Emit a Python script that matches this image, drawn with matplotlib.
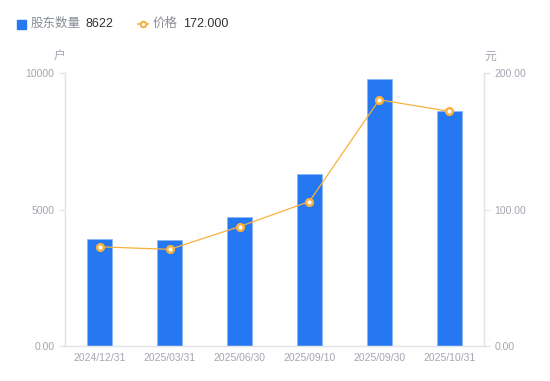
import matplotlib.pyplot as plt

plt.rcParams['font.family'] = ['Liberation Sans', 'Noto Sans CJK SC', 'DejaVu Sans']

dates = ['2024/12/31', '2025/03/31', '2025/06/30', '2025/09/10', '2025/09/30', '2025/10/31']
holders = [3920, 3880, 4730, 6310, 9770, 8622]
price = [72.7, 70.8, 87.5, 105.9, 180.5, 172.0]

blue = '#2677F2'
orange = '#F7B13F'
grey = '#A3A6B0'
axis_grey = '#E3E4E8'

fig = plt.figure(figsize=(5.5, 3.81), dpi=100)
ax = fig.add_axes([0.118, 0.092, 0.762, 0.716])
ax2 = ax.twinx()

x = list(range(len(dates)))
ax.bar(x, holders, width=0.36, color=blue, edgecolor='#8DB6F7', linewidth=0.6, zorder=2)
ax.set_xlim(-0.5, len(dates) - 0.5)
ax.set_ylim(0, 10000)
ax.set_yticks([0, 5000, 10000])
ax.set_yticklabels(['0.00', '5000', '10000'])
ax.set_xticks(x)
ax.set_xticklabels(dates)

ax2.plot(x, price, color=orange, linewidth=0.9, marker='o', markersize=4.8,
         markerfacecolor='white', markeredgecolor=orange, markeredgewidth=1.8, zorder=3)
ax2.set_ylim(0, 200)
ax2.set_yticks([0, 100, 200])
ax2.set_yticklabels(['0.00', '100.00', '200.00'])

for a in (ax, ax2):
    for s in a.spines.values():
        s.set_color(axis_grey)
        s.set_linewidth(0.9)
    a.spines['top'].set_visible(False)
    a.tick_params(colors=axis_grey, labelcolor=grey, labelsize=7.5, length=4, width=0.9)
ax.tick_params(axis='x', length=0, pad=5)

fig.text(59 / 550, 1 - 57 / 381, '户', color=grey, fontsize=8.5, ha='center', va='center')
fig.text(490 / 550, 1 - 57 / 381, '元', color=grey, fontsize=8.5, ha='center', va='center')

# legend drawn by hand
ly = 1 - 24 / 381
fig.patches.append(plt.Rectangle((17 / 550, ly - 4.5 / 381), 9 / 550, 9 / 381,
                                 transform=fig.transFigure, color=blue, figure=fig))
fig.text(31 / 550, ly, '股东数量', color='#8A8D96', fontsize=9, va='center')
fig.text(85 / 550, ly, '8622', color='#333333', fontsize=9, va='center')
fig.lines.append(plt.Line2D([138 / 550, 148 / 550], [ly, ly], transform=fig.transFigure,
                            color=orange, linewidth=1.2))
fig.lines.append(plt.Line2D([143 / 550], [ly], transform=fig.transFigure, color=orange,
                            marker='o', markersize=4, markerfacecolor='white',
                            markeredgecolor=orange, markeredgewidth=1.5))
fig.text(153 / 550, ly, '价格', color='#8A8D96', fontsize=9, va='center')
fig.text(183 / 550, ly, '172.000', color='#333333', fontsize=9, va='center')

fig.savefig('out.png', dpi=100)
